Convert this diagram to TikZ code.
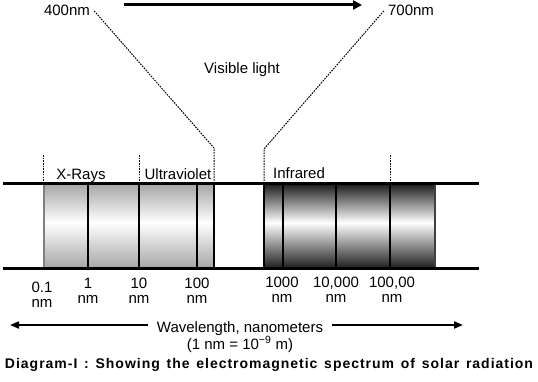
\documentclass[tikz,border=0pt]{standalone}
\usepackage{fontspec}
\setmainfont{Liberation Sans}
\usetikzlibrary{positioning, arrows.meta}

\definecolor{raylight}{HTML}{A6A6A6}
\definecolor{raydark}{HTML}{1E1E1E}
\pgfdeclareverticalshading{lightband}{100bp}{color(0bp)=(raylight); color(25bp)=(raylight); color(52bp)=(white); color(75bp)=(raylight); color(100bp)=(raylight)}
\pgfdeclareverticalshading{darkband}{100bp}{color(0bp)=(raydark); color(25bp)=(raydark); color(52bp)=(white); color(75bp)=(raydark); color(100bp)=(raydark)}

\begin{document}
\begin{tikzpicture}[x=1pt, y=-1pt, font=\fontsize{15}{18}\selectfont,
    lbl/.style={anchor=base, inner sep=0pt},
    tick/.style={line width=1pt, dash pattern=on 1.6pt off 1.1pt},
    rail/.style={line width=3pt},
    cut/.style={line width=2.6pt},
    wave/.style={line width=2pt, -{Triangle[length=9pt, width=7pt]}}]
  \useasboundingbox (0,0) rectangle (538,382);

  % visible light
  \node[lbl] (n400) at (67,16) {400nm};
  \node[lbl] (n700) at (411,16) {700nm};
  \node[lbl] (vis) at (242,74) {Visible light};
  \coordinate (top-a) at (124,5);
  \coordinate (top-b) at (362,5);
  \draw[line width=3pt, -{Triangle[length=9pt, width=9pt]}] (top-a) -- (top-b);
  \coordinate (vl) at (214,184);
  \coordinate (vr) at (264,184);
  \draw[tick] ([xshift=4pt]n400.east) -- (214,148) -- (vl);
  \draw[tick] ([xshift=-4pt]n700.west) -- (264,149) -- (vr);

  % bands
  \shade[shading=lightband] (44,184) rectangle (214,268);
  \shade[shading=darkband] (263,184) rectangle (435,268);
  \draw[line width=1.2pt, gray] (44,184) -- (44,268);
  \draw[line width=1.2pt, black!75] (435,184) -- (435,268);
  \draw[cut] (88,184) -- (88,268);
  \draw[cut] (139,184) -- (139,268);
  \draw[cut] (197,184) -- (197,268);
  \draw[cut] (214,184) -- (214,268);
  \draw[cut] (264,184) -- (264,268);
  \draw[cut] (283,184) -- (283,268);
  \draw[cut] (336,184) -- (336,268);
  \draw[cut] (390,184) -- (390,268);
  \draw[rail] (3,184) -- (479,184);
  \draw[rail] (3,268) -- (479,268);

  % regions
  \draw[tick] (43,155) -- (43,183);
  \draw[tick] (139,155) -- (139,183);
  \draw[tick] (390,155) -- (390,183);
  \node[lbl] (xray) at (81,180) {X-Rays};
  \node[lbl] (uv) at (178,180) {Ultraviolet};
  \node[lbl] (ir) at (299,179) {Infrared};

  % wavelengths
  \node[lbl] (w01) at (42,292) {0.1};
  \node[lbl] (u01) at ([yshift=-15pt]w01.base) {nm};
  \node[lbl] (w1) at (88,288) {1};
  \node[lbl] (u1) at ([yshift=-15pt]w1.base) {nm};
  \node[lbl] (w10) at (139,288) {10};
  \node[lbl] (u10) at ([yshift=-15pt]w10.base) {nm};
  \node[lbl] (w100) at (197,288) {100};
  \node[lbl] (u100) at ([yshift=-15pt]w100.base) {nm};
  \node[lbl] (w1k) at (282,287) {1000};
  \node[lbl] (u1k) at ([yshift=-15pt]w1k.base) {nm};
  \node[lbl] (w10k) at (336,287) {10,000};
  \node[lbl] (u10k) at ([yshift=-15pt]w10k.base) {nm};
  \node[lbl] (w100k) at (392,287) {100,00};
  \node[lbl] (u100k) at ([yshift=-15pt]w100k.base) {nm};

  % axis
  \node[lbl] (wl) at (240,332) {Wavelength, nanometers};
  \node[lbl] (wlu) at ([yshift=-17pt]wl.base) {(1 nm = 10\textsuperscript{\char"2212 9} m)};
  \coordinate (wl-l) at (10,325);
  \coordinate (wl-r) at (463,325);
  \draw[wave] ([xshift=-9pt]wl.west |- wl-l) -- (wl-l);
  \draw[wave] ([xshift=9pt]wl.east |- wl-r) -- (wl-r);

  \node[lbl, font=\bfseries\fontsize{14}{16}\selectfont\addfontfeature{LetterSpace=7}] (caption) at (269,368)
    {\makebox[528pt][s]{Diagram-I : Showing the electromagnetic spectrum of solar radiation}};
\end{tikzpicture}
\end{document}
